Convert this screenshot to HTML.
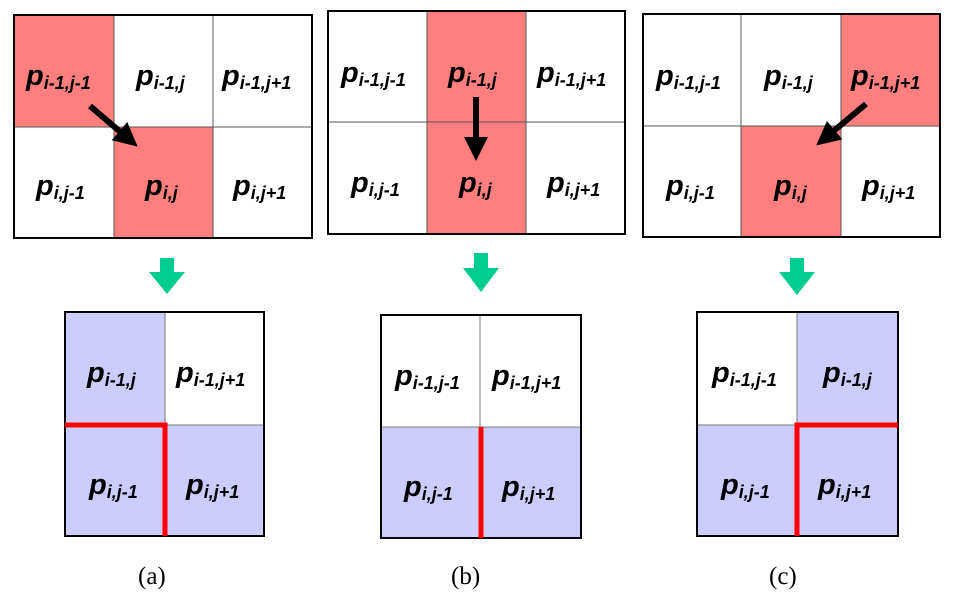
<!DOCTYPE html>
<html><head><meta charset="utf-8"><style>
body{margin:0;background:#fff;width:958px;height:606px;overflow:hidden}
svg text.p{font-family:"Liberation Sans",sans-serif;font-weight:bold;font-style:italic;font-size:29px;fill:#000}
svg tspan.s{font-size:18px}
svg text.l{font-family:"Liberation Serif",serif;font-size:25px;fill:#000}
</style></head><body>
<svg width="958" height="606" viewBox="0 0 958 606" xmlns="http://www.w3.org/2000/svg">
<defs>
<marker id="ah" markerWidth="4" markerHeight="4" refX="1" refY="2" orient="auto" markerUnits="strokeWidth"><path d="M0,0 L4,2 L0,4 z" fill="#000"/></marker>
</defs>
<!-- (a) top -->
<rect x="14" y="15" width="100" height="112" fill="#ff7f7f"/>
<rect x="114" y="127" width="99" height="111" fill="#ff7f7f"/>
<g stroke="#555" stroke-width="1"><line x1="114" y1="15" x2="114" y2="238"/><line x1="213" y1="15" x2="213" y2="238"/><line x1="14" y1="127" x2="312" y2="127"/></g>
<rect x="14" y="15" width="298" height="223" fill="none" stroke="#000" stroke-width="2"/>
<!-- (b) top -->
<rect x="427" y="11" width="99" height="223" fill="#ff7f7f"/>
<g stroke="#555" stroke-width="1"><line x1="427" y1="11" x2="427" y2="234"/><line x1="526" y1="11" x2="526" y2="234"/><line x1="328" y1="122" x2="625" y2="122"/></g>
<rect x="328" y="11" width="297" height="223" fill="none" stroke="#000" stroke-width="2"/>
<!-- (c) top -->
<rect x="841" y="14" width="99" height="112" fill="#ff7f7f"/>
<rect x="741" y="126" width="100" height="111" fill="#ff7f7f"/>
<g stroke="#555" stroke-width="1"><line x1="741" y1="14" x2="741" y2="237"/><line x1="841" y1="14" x2="841" y2="237"/><line x1="643" y1="126" x2="940" y2="126"/></g>
<rect x="643" y="14" width="297" height="223" fill="none" stroke="#000" stroke-width="2"/>
<!-- black arrows -->
<g stroke="#000" stroke-width="6" marker-end="url(#ah)">
<line x1="90" y1="106" x2="124" y2="135"/>
<line x1="476" y1="97" x2="476" y2="143"/>
<line x1="866" y1="104" x2="830" y2="134"/>
</g>
<!-- green arrows -->
<g fill="#00cc8f">
<path d="M160,258 h14 v14 h11 l-18,22 l-18,-22 h11z"/>
<path d="M474,253 h14 v15 h11 l-18,24 l-18,-24 h11z"/>
<path d="M790,258 h14 v14 h11 l-18,23 l-18,-23 h11z"/>
</g>
<!-- (a) bottom -->
<rect x="65" y="312" width="100" height="113" fill="#ccccff"/>
<rect x="65" y="425" width="199" height="111" fill="#ccccff"/>
<g stroke="#777" stroke-width="1"><line x1="165" y1="312" x2="165" y2="425"/><line x1="165" y1="425" x2="264" y2="425"/></g>
<rect x="65" y="312" width="199" height="224" fill="none" stroke="#000" stroke-width="2"/>
<path d="M65,425 H165 V536" fill="none" stroke="#f00" stroke-width="5"/>
<!-- (b) bottom -->
<rect x="381" y="427" width="200" height="111" fill="#ccccff"/>
<g stroke="#777" stroke-width="1"><line x1="480" y1="315" x2="480" y2="427"/><line x1="381" y1="427" x2="581" y2="427"/></g>
<rect x="381" y="315" width="200" height="223" fill="none" stroke="#000" stroke-width="2"/>
<line x1="481" y1="427" x2="481" y2="538" stroke="#f00" stroke-width="5"/>
<!-- (c) bottom -->
<rect x="797" y="312" width="101" height="113" fill="#ccccff"/>
<rect x="697" y="425" width="201" height="111" fill="#ccccff"/>
<g stroke="#777" stroke-width="1"><line x1="797" y1="312" x2="797" y2="425"/><line x1="697" y1="425" x2="797" y2="425"/></g>
<rect x="697" y="312" width="201" height="224" fill="none" stroke="#000" stroke-width="2"/>
<path d="M898,425 H797 V536" fill="none" stroke="#f00" stroke-width="5"/>
<!-- labels -->
<g class="lbl">
<text class="p" x="26" y="85">p<tspan class="s" dy="4">i-1,j-1</tspan></text>
<text class="p" x="136" y="85">p<tspan class="s" dy="4">i-1,j</tspan></text>
<text class="p" x="222" y="85">p<tspan class="s" dy="4">i-1,j+1</tspan></text>
<text class="p" x="36" y="195">p<tspan class="s" dy="4">i,j-1</tspan></text>
<text class="p" x="145" y="195">p<tspan class="s" dy="4">i,j</tspan></text>
<text class="p" x="233" y="195">p<tspan class="s" dy="4">i,j+1</tspan></text>

<text class="p" x="341" y="82">p<tspan class="s" dy="4">i-1,j-1</tspan></text>
<text class="p" x="448" y="82">p<tspan class="s" dy="4">i-1,j</tspan></text>
<text class="p" x="537" y="82">p<tspan class="s" dy="4">i-1,j+1</tspan></text>
<text class="p" x="351" y="192">p<tspan class="s" dy="4">i,j-1</tspan></text>
<text class="p" x="459" y="192">p<tspan class="s" dy="4">i,j</tspan></text>
<text class="p" x="547" y="192">p<tspan class="s" dy="4">i,j+1</tspan></text>

<text class="p" x="656" y="85">p<tspan class="s" dy="4">i-1,j-1</tspan></text>
<text class="p" x="764" y="85">p<tspan class="s" dy="4">i-1,j</tspan></text>
<text class="p" x="851" y="85">p<tspan class="s" dy="4">i-1,j+1</tspan></text>
<text class="p" x="666" y="195">p<tspan class="s" dy="4">i,j-1</tspan></text>
<text class="p" x="774" y="195">p<tspan class="s" dy="4">i,j</tspan></text>
<text class="p" x="862" y="195">p<tspan class="s" dy="4">i,j+1</tspan></text>

<text class="p" x="87" y="382">p<tspan class="s" dy="4">i-1,j</tspan></text>
<text class="p" x="176" y="382">p<tspan class="s" dy="4">i-1,j+1</tspan></text>
<text class="p" x="89" y="494">p<tspan class="s" dy="4">i,j-1</tspan></text>
<text class="p" x="186" y="494">p<tspan class="s" dy="4">i,j+1</tspan></text>

<text class="p" x="395" y="385">p<tspan class="s" dy="4">i-1,j-1</tspan></text>
<text class="p" x="492" y="385">p<tspan class="s" dy="4">i-1,j+1</tspan></text>
<text class="p" x="404" y="496">p<tspan class="s" dy="4">i,j-1</tspan></text>
<text class="p" x="502" y="496">p<tspan class="s" dy="4">i,j+1</tspan></text>

<text class="p" x="712" y="382">p<tspan class="s" dy="4">i-1,j-1</tspan></text>
<text class="p" x="823" y="382">p<tspan class="s" dy="4">i-1,j</tspan></text>
<text class="p" x="721" y="494">p<tspan class="s" dy="4">i,j-1</tspan></text>
<text class="p" x="818" y="494">p<tspan class="s" dy="4">i,j+1</tspan></text>
</g>
<text class="l" x="138" y="584">(a)</text>
<text class="l" x="451" y="584">(b)</text>
<text class="l" x="769" y="584">(c)</text>
</svg>
</body></html>
